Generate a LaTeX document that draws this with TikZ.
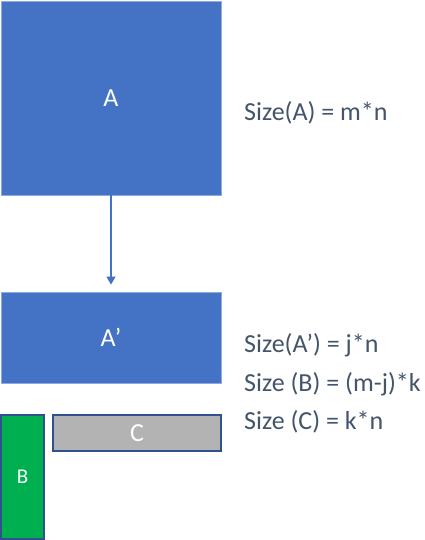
\documentclass[tikz,border=0pt]{standalone}
\usepackage{fontspec}
\setmainfont{Carlito}
\usetikzlibrary{arrows.meta}
\definecolor{boxblue}{HTML}{4472C4}
\definecolor{edgeblue}{HTML}{8FAADC}
\definecolor{darkedge}{HTML}{2F528F}
\definecolor{boxgreen}{HTML}{00B050}
\definecolor{boxgray}{HTML}{B3B3B3}
\definecolor{txt}{HTML}{44546A}

\begin{document}
\begin{tikzpicture}[x=1pt,y=-1pt,font=\fontsize{26}{30}\selectfont,
  block/.style={draw=edgeblue, fill=boxblue, text=white, inner sep=0pt, line width=0.8pt},
  part/.style={draw=darkedge, text=white, inner sep=0pt, line width=1.2pt},
  size/.style={text=txt, anchor=west, inner sep=0pt}]
\useasboundingbox (0,0) rectangle (424,540);

\node[block, minimum width=220pt, minimum height=194pt] (a) at (111,98) {A};
\node[block, minimum width=220pt, minimum height=91pt] (ap) at (111,337.5) {A’};
\node[part, fill=boxgreen, minimum width=43pt, minimum height=124pt,
  font=\fontsize{21}{24}\selectfont] (b) at (22.5,477) {B};
\node[part, fill=boxgray, minimum width=168pt, minimum height=36pt] (c) at (137,433) {C};

\draw[boxblue, line width=1.2pt, -{Triangle[length=8pt,width=9pt]}, shorten >=7pt] (a) -- (ap);

\node[size] (sa) at (244,113) {Size(A) = m*n};
\node[size] (sap) at (244,345) {Size(A’) = j*n};
\node[size] (sb) at (244,384) {Size (B) = (m-j)*k};
\node[size] (sc) at (244,422) {Size (C) = k*n};
\end{tikzpicture}
\end{document}
